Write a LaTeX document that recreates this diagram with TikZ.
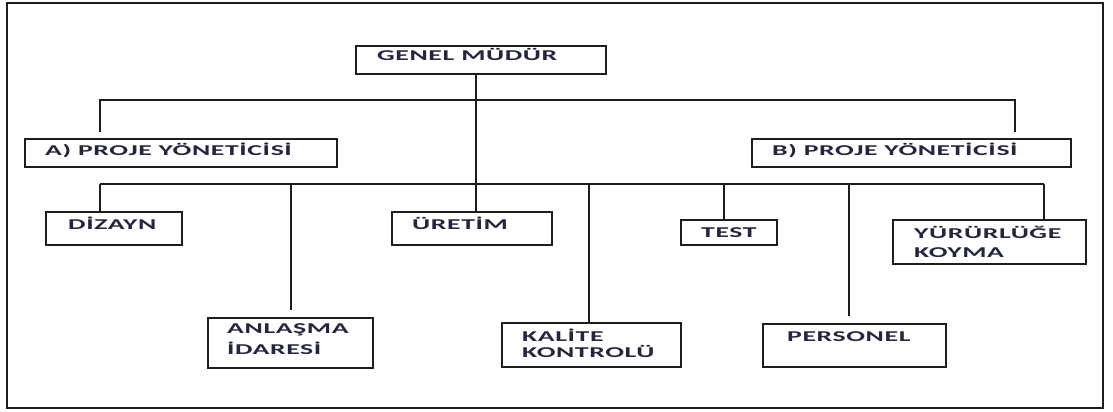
\documentclass[tikz,border=0pt]{standalone}
\usepackage{fontspec}
\newfontfamily\lblfont{Carlito}[FakeStretch=1.85, LetterSpace=4]
\usetikzlibrary{calc}
\definecolor{inkline}{RGB}{30,30,30}
\definecolor{inktext}{RGB}{35,38,62}
\tikzset{
  orgbox/.style={draw=inkline, line width=1.8pt, inner sep=0pt, anchor=north west, fill=white},
  lbl/.style={anchor=base west, inner sep=0pt, text=inktext, font=\lblfont\bfseries\fontsize{15}{20}\selectfont},
  link/.style={draw=inkline, line width=1.8pt}
}
% box by corners: name, x1, y1, x2, y2
\newcommand\orgunit[5]{%
  \node[orgbox, minimum width={#4-#2}, minimum height={#5-#3}] (#1) at (#2,#3) {};}
\begin{document}
\begin{tikzpicture}[x=1pt, y=-1pt]
\useasboundingbox (0,0) rectangle (1113,412);
% outer frame
\draw[draw=inkline, line width=1.5pt] (7,3) rectangle (1103,408);

% boxes
\orgunit{gm}{355}{45}{605}{73}
\orgunit{pa}{24}{138}{336}{166}
\orgunit{pb}{751}{138}{1070}{166}
\orgunit{diz}{45}{211}{181}{244}
\orgunit{ure}{391}{211}{551}{244}
\orgunit{anl}{207}{317}{372}{367}
\orgunit{kal}{501}{322}{680}{366}
\orgunit{tst}{680}{219}{776}{244}
\orgunit{yur}{892}{219}{1085}{263}
\orgunit{per}{762}{323}{945}{366}

% labels
\node[lbl] (tgm) at (377,61) {GENEL MÜDÜR};
\node[lbl] (tpa) at (45,155) {A) PROJE YÖNETİCİSİ};
\node[lbl] (tpb) at (772,155) {B) PROJE YÖNETİCİSİ};
\node[lbl] (tdiz) at (68,229) {DİZAYN};
\node[lbl] (ture) at (412,229) {ÜRETİM};
\node[lbl] (tanl1) at (227,333) {ANLAŞMA};
\node[lbl] (tanl2) at (227,354) {İDARESİ};
\node[lbl] (tkal1) at (522,341) {KALİTE};
\node[lbl] (tkal2) at (522,357) {KONTROLÜ};
\node[lbl] (ttst) at (701,237) {TEST};
\node[lbl] (tyur1) at (914,238) {YÜRÜRLÜĞE};
\node[lbl] (tyur2) at (914,257) {KOYMA};
\node[lbl] (tper) at (787,341) {PERSONEL};

% free ends of the open drops
\coordinate (paTop) at (100,132);
\coordinate (pbTop) at (1015,132);
\coordinate (anlTop) at (291,310);
\coordinate (perTop) at (849,316);

% upper bus towards the two project managers
\draw[link] (paTop) -- (paTop |- 0,100) -- (pbTop |- 0,100) -- (pbTop);

% main stem from the general manager down to production
\draw[link] (gm.south -| 476,0) -- (ure.north -| 476,0);

% lower bus and its drops
\draw[link] (100,184) -- (1044,184);
\draw[link] (100,184) -- (diz.north -| 100,0);
\draw[link] (291,184) -- (anlTop);
\draw[link] (589,184) -- (kal.north -| 589,0);
\draw[link] (724,184) -- (tst.north -| 724,0);
\draw[link] (849,184) -- (perTop);
\draw[link] (1044,184) -- (yur.north -| 1044,0);
\end{tikzpicture}
\end{document}
